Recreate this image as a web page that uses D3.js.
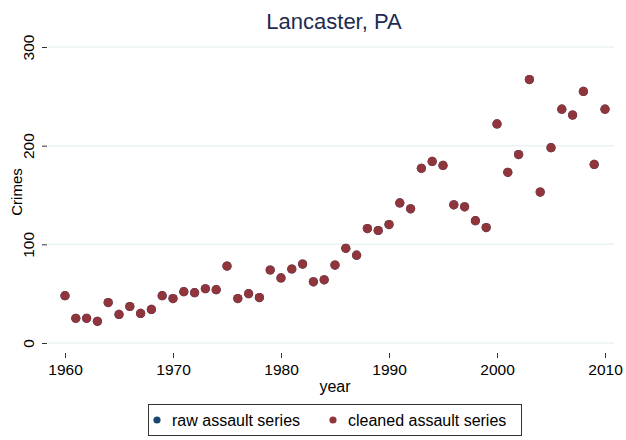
<!DOCTYPE html>
<html><head><meta charset="utf-8">
<script src="https://cdn.jsdelivr.net/npm/d3@7/dist/d3.min.js"></script>
<style>body{margin:0;background:#fff;} svg{display:block;font-family:"Liberation Sans",Arial,Helvetica,sans-serif;}</style>
</head><body><svg id="c" width="626" height="440"></svg>
<script>
const years = d3.range(1960, 2011);
const cleaned = [48,25,25,22,41,29,37,30,34,48,45,52,51,55,54,78,45,50,46,74,66,75,80,62,64,79,96,89,116,114,120,142,136,177,184,180,140,138,124,117,222,173,191,267,153,198,237,231,255,181,237];
const raw = cleaned.slice();
const xTicks = [1960,1970,1980,1990,2000,2010];
const yTicks = [0,100,200,300];
const seriesNames = ["raw assault series","cleaned assault series"];
const colors = ["#1a476f","#90353b"];

const svg = d3.select("#c");
const x = d3.scaleLinear().domain([1960,2010]).range([65,605]);
const y = d3.scaleLinear().domain([0,300]).range([343,47]);

// background grid
svg.append("g").selectAll("line").data(yTicks).join("line")
  .attr("x1",48).attr("x2",614).attr("y1",d=>y(d)).attr("y2",d=>y(d))
  .attr("stroke","#eaf2f3").attr("stroke-width",1.5);

// y axis ticks
const ya = svg.append("g").attr("transform","translate(47,0)")
  .call(d3.axisLeft(y).tickValues(yTicks).tickSize(5).tickPadding(9));
ya.select(".domain").remove();
ya.selectAll(".tick line").attr("stroke","#333");
ya.selectAll(".tick text").attr("font-size",15.5).attr("fill","#000")
  .attr("text-anchor","middle").attr("transform","rotate(-90)")
  .attr("x",0).attr("dy",0).attr("y",-13);

// x axis
const xa = svg.append("g").attr("transform","translate(0,353)")
  .call(d3.axisBottom(x).tickValues(xTicks).tickFormat(d3.format("d")).tickSize(5).tickPadding(6));
xa.select(".domain").remove();
xa.selectAll(".tick line").attr("stroke","#333");
xa.selectAll(".tick text").attr("font-size",15.5).attr("fill","#000");

// axis titles
svg.append("text").attr("x",335).attr("y",392).attr("text-anchor","middle")
  .attr("font-size",16).text("year");
svg.append("text").attr("transform","translate(22,192) rotate(-90)").attr("text-anchor","middle")
  .attr("font-size",15).text("Crimes");

// title
svg.append("text").attr("x",334).attr("y",29).attr("text-anchor","middle")
  .attr("font-size",22).attr("fill","#1e2b4f").text("Lancaster, PA");

// points
[raw, cleaned].forEach((s,i)=>{
  svg.append("g").selectAll("circle").data(years).join("circle")
    .attr("cx",d=>x(d)).attr("cy",(d,j)=>y(s[j])).attr("r",4.6)
    .attr("fill",colors[i]);
});

// legend
const lg = svg.append("g");
lg.append("rect").attr("x",148.5).attr("y",404.5).attr("width",373).attr("height",31)
  .attr("fill","#fff").attr("stroke","#333").attr("stroke-width",1);
const lx = [157,333];
seriesNames.forEach((n,i)=>{
  lg.append("circle").attr("cx",lx[i]).attr("cy",420).attr("r",3.6).attr("fill",colors[i]);
  lg.append("text").attr("x",lx[i]+15).attr("y",426).attr("font-size",16).text(n);
});
</script></body></html>
